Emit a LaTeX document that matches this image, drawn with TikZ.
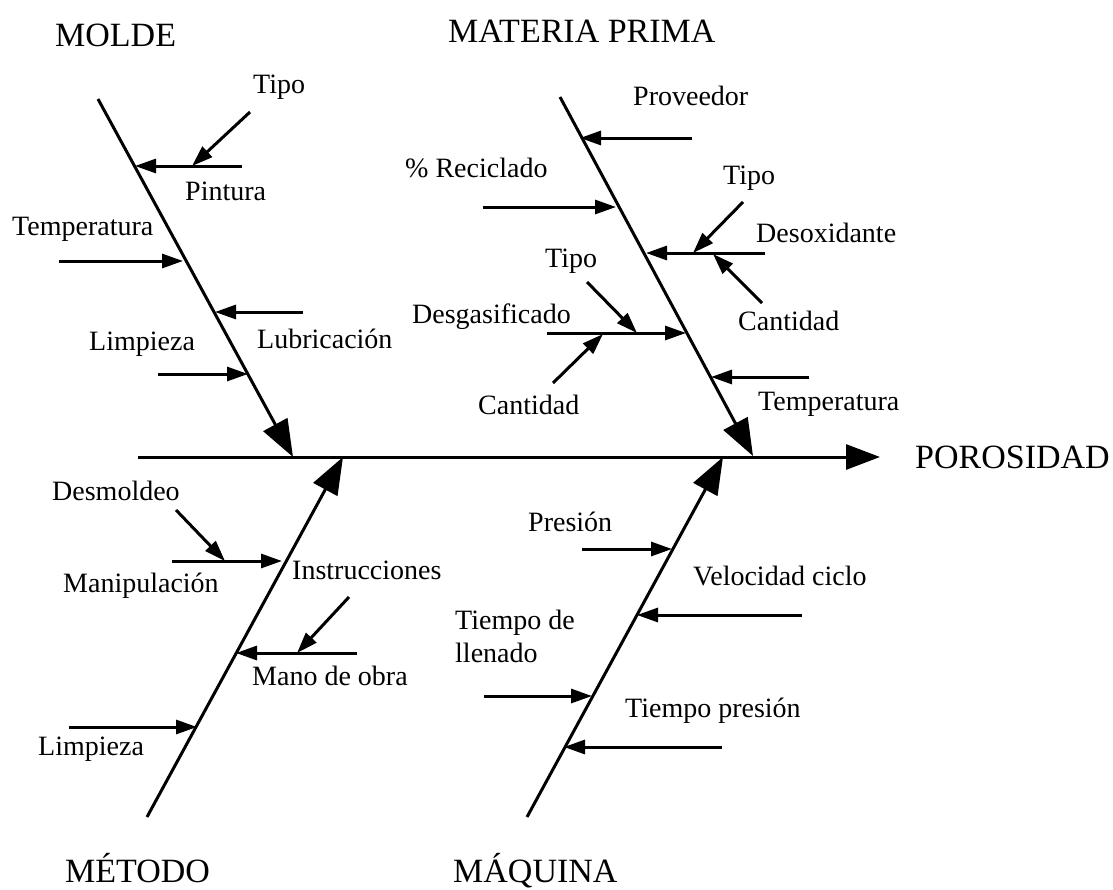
\documentclass[tikz,border=0pt]{standalone}
\usepackage{fontspec}
\setmainfont{Liberation Serif}
\usetikzlibrary{arrows.meta}
\begin{document}
\begin{tikzpicture}[x=1pt,y=-1pt,
  bone/.style={line width=3pt,-{Triangle[length=37pt,width=27pt]}},
  spine/.style={line width=3pt,-{Triangle[length=34pt,width=25pt]}},
  sub/.style={line width=3pt,-{Triangle[length=21pt,width=14pt]}},
  lbl/.style={anchor=base west,inner sep=0pt,font=\fontsize{28}{33}\selectfont},
  hdr/.style={anchor=base west,inner sep=0pt,font=\fontsize{34}{40}\selectfont}]
\useasboundingbox (0,0) rectangle (1113,889);

% ---------- spine ----------
\coordinate (s0) at (138,457);
\coordinate (effect) at (880,457);
\draw[spine] (s0) -- (effect);
\node[hdr] (porosidad) at (915,468) {POROSIDAD};

% ---------- main bones ----------
\coordinate (moldeTop) at (98,99);     \coordinate (moldeTip) at (293,457);
\coordinate (mpTop) at (560,97);       \coordinate (mpTip) at (753,456);
\coordinate (metBot) at (147,817);     \coordinate (metTip) at (343,457);
\coordinate (maqBot) at (527,817);     \coordinate (maqTip) at (723,457);
\draw[bone] (moldeTop) -- (moldeTip);
\draw[bone] (mpTop) -- (mpTip);
\draw[bone] (metBot) -- (metTip);
\draw[bone] (maqBot) -- (maqTip);

\node[hdr] (molde) at (55,46) {MOLDE};
\node[hdr] (materia) at (448,42) {MATERIA PRIMA};
\node[hdr] (metodo) at (65,882) {MÉTODO};
\node[hdr] (maquina) at (453,882) {MÁQUINA};

% ---------- MOLDE ----------
\coordinate (pinA) at (242,166); \coordinate (pinB) at (135,166);
\coordinate (tipoMA) at (250,112); \coordinate (tipoMB) at (192,166);
\coordinate (tempA) at (59,261); \coordinate (tempB) at (183,261);
\coordinate (lubA) at (303,312); \coordinate (lubB) at (215,312);
\coordinate (limA) at (158,374); \coordinate (limB) at (248,374);
\draw[sub] (pinA) -- (pinB);
\draw[sub] (tipoMA) -- (tipoMB);
\draw[sub] (tempA) -- (tempB);
\draw[sub] (lubA) -- (lubB);
\draw[sub] (limA) -- (limB);
\node[lbl] (tipoM) at (253,93) {Tipo};
\node[lbl] (pintura) at (185,200) {Pintura};
\node[lbl] (tempM) at (12,235) {Temperatura};
\node[lbl] (lubric) at (257,348) {Lubricación};
\node[lbl] (limpM) at (89,350) {Limpieza};

% ---------- MATERIA PRIMA ----------
\coordinate (provA) at (692,138); \coordinate (provB) at (580,138);
\coordinate (recA) at (483,207); \coordinate (recB) at (616,207);
\coordinate (desoxA) at (765,253); \coordinate (desoxB) at (646,253);
\coordinate (tipoRA) at (743,202); \coordinate (tipoRB) at (693,253);
\coordinate (cantRA) at (762,303); \coordinate (cantRB) at (713,254);
\coordinate (desgA) at (547,333); \coordinate (desgB) at (686,333);
\coordinate (tipoLA) at (587,282); \coordinate (tipoLB) at (637,333);
\coordinate (cantLA) at (553,383); \coordinate (cantLB) at (603,334);
\coordinate (tempRA) at (809,377); \coordinate (tempRB) at (711,377);
\draw[sub] (provA) -- (provB);
\draw[sub] (recA) -- (recB);
\draw[sub] (desoxA) -- (desoxB);
\draw[sub] (tipoRA) -- (tipoRB);
\draw[sub] (cantRA) -- (cantRB);
\draw[sub] (desgA) -- (desgB);
\draw[sub] (tipoLA) -- (tipoLB);
\draw[sub] (cantLA) -- (cantLB);
\draw[sub] (tempRA) -- (tempRB);
\node[lbl] (proveedor) at (633,105) {Proveedor};
\node[lbl] (reciclado) at (405,177) {\% Reciclado};
\node[lbl] (tipoR) at (723,184) {Tipo};
\node[lbl] (desoxidante) at (756,242) {Desoxidante};
\node[lbl] (cantR) at (738,330) {Cantidad};
\node[lbl] (tipoL) at (545,267) {Tipo};
\node[lbl] (desgasificado) at (412,323) {Desgasificado};
\node[lbl] (cantL) at (478,414) {Cantidad};
\node[lbl] (tempR) at (758,410) {Temperatura};

% ---------- MÉTODO ----------
\coordinate (desmA) at (176,510); \coordinate (desmB) at (225,561);
\coordinate (manipA) at (172,561); \coordinate (manipB) at (282,561);
\coordinate (instA) at (349,597); \coordinate (instB) at (297,653);
\coordinate (manoA) at (357,653); \coordinate (manoB) at (236,653);
\coordinate (limBA) at (69,727); \coordinate (limBB) at (197,727);
\draw[sub] (desmA) -- (desmB);
\draw[sub] (manipA) -- (manipB);
\draw[sub] (instA) -- (instB);
\draw[sub] (manoA) -- (manoB);
\draw[sub] (limBA) -- (limBB);
\node[lbl] (desmoldeo) at (52,500) {Desmoldeo};
\node[lbl] (manipulacion) at (63,592) {Manipulación};
\node[lbl] (instrucciones) at (292,579) {Instrucciones};
\node[lbl] (manoobra) at (252,685) {Mano de obra};
\node[lbl] (limpB) at (38,755) {Limpieza};

% ---------- MÁQUINA ----------
\coordinate (presA) at (582,549); \coordinate (presB) at (672,549);
\coordinate (velA) at (802,615); \coordinate (velB) at (637,615);
\coordinate (tllA) at (484,696); \coordinate (tllB) at (592,696);
\coordinate (tprA) at (722,747); \coordinate (tprB) at (564,747);
\draw[sub] (presA) -- (presB);
\draw[sub] (velA) -- (velB);
\draw[sub] (tllA) -- (tllB);
\draw[sub] (tprA) -- (tprB);
\node[lbl] (presion) at (528,531) {Presión};
\node[lbl] (velocidad) at (693,585) {Velocidad ciclo};
\node[lbl] (tll1) at (455,629) {Tiempo de};
\node[lbl] (tll2) at (455,662) {llenado};
\node[lbl] (tpresion) at (625,717) {Tiempo presión};
\end{tikzpicture}
\end{document}
